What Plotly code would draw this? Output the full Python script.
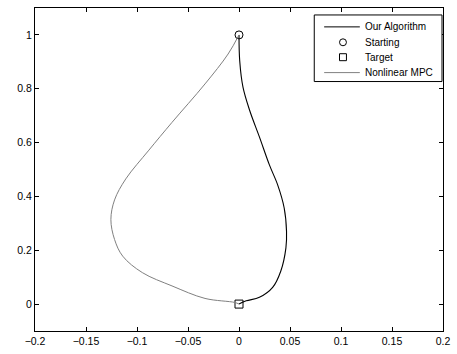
import plotly.graph_objects as go

# Our Algorithm trajectory
alg_x = [0.0, 0.0007, 0.0039, 0.0104, 0.020, 0.0298, 0.0379, 0.0443, 0.0466, 0.046, 0.041, 0.033, 0.020, 0.0071, 0.0]
alg_y = [1.0, 0.904, 0.806, 0.72, 0.621, 0.517, 0.443, 0.357, 0.27, 0.209, 0.123, 0.062, 0.025, 0.012, 0.0]

# Nonlinear MPC trajectory
mpc_x = [0.0, -0.0107, -0.0333, -0.0657, -0.0883, -0.111, -0.122, -0.1256, -0.122, -0.114, -0.0948, -0.0657, -0.0333, -0.004, 0.0]
mpc_y = [1.0, 0.929, 0.818, 0.675, 0.572, 0.465, 0.387, 0.314, 0.24, 0.178, 0.117, 0.0675, 0.021, 0.006, 0.0]

start_x, start_y = [0.0], [1.0]
target_x, target_y = [0.0], [0.0]

legend_labels = ["Our Algorithm", "Starting", "Target", "Nonlinear MPC"]

W, H = 457, 354
ML, MR, MT, MB = 35, 10, 7, 22
PW, PH = W - ML - MR, H - MT - MB


def px(x):
    return (x - ML) / PW


def py(y):
    return (H - MB - y) / PH


fig = go.Figure()
fig.add_trace(go.Scatter(x=alg_x, y=alg_y, mode="lines", name=legend_labels[0],
                         line=dict(color="black", width=1.1, shape="spline")))
fig.add_trace(go.Scatter(x=start_x, y=start_y, mode="markers", name=legend_labels[1],
                         marker=dict(symbol="circle-open", size=8, color="black", line=dict(width=1))))
fig.add_trace(go.Scatter(x=target_x, y=target_y, mode="markers", name=legend_labels[2],
                         marker=dict(symbol="square-open", size=8, color="black", line=dict(width=1))))
fig.add_trace(go.Scatter(x=mpc_x, y=mpc_y, mode="lines", name=legend_labels[3],
                         line=dict(color="#808080", width=1, shape="spline")))

# Manual legend (compact, MATLAB-like)
shapes = []
annotations = []
bx0, bx1, by0, by1 = 317, 446, 14, 81
shapes.append(dict(type="rect", xref="paper", yref="paper", x0=px(bx0), x1=px(bx1), y0=py(by1), y1=py(by0),
                   line=dict(color="black", width=1), fillcolor="white", layer="above"))
rows = [26, 41.5, 56.5, 72]
sx0, sx1, sxc, tx = 327, 363, 346, 366
shapes.append(dict(type="line", xref="paper", yref="paper", x0=px(sx0), x1=px(sx1), y0=py(rows[0]), y1=py(rows[0]),
                   line=dict(color="black", width=1), layer="above"))
r = 3.5
shapes.append(dict(type="circle", xref="paper", yref="paper", x0=px(sxc - r), x1=px(sxc + r),
                   y0=py(rows[1] + r), y1=py(rows[1] - r), line=dict(color="black", width=1), layer="above"))
shapes.append(dict(type="rect", xref="paper", yref="paper", x0=px(sxc - r), x1=px(sxc + r),
                   y0=py(rows[2] + r), y1=py(rows[2] - r), line=dict(color="black", width=1), layer="above"))
shapes.append(dict(type="line", xref="paper", yref="paper", x0=px(sx0), x1=px(sx1), y0=py(rows[3]), y1=py(rows[3]),
                   line=dict(color="#808080", width=1), layer="above"))
for lab, ry in zip(legend_labels, rows):
    annotations.append(dict(xref="paper", yref="paper", x=px(tx), y=py(ry), text=lab, showarrow=False,
                            xanchor="left", yanchor="middle",
                            font=dict(family="Liberation Sans, Arial", size=10, color="black")))

axis_common = dict(showgrid=False, zeroline=False, showline=True, linecolor="black", linewidth=1,
                   mirror="ticks", ticks="inside", ticklen=4, tickcolor="black",
                   tickfont=dict(family="Liberation Sans, Arial", size=10.5, color="black"))

fig.update_layout(
    width=W, height=H,
    margin=dict(l=ML, r=MR, t=MT, b=MB),
    paper_bgcolor="white", plot_bgcolor="white",
    xaxis=dict(range=[-0.2, 0.2], tick0=-0.2, dtick=0.05, **axis_common),
    yaxis=dict(range=[-0.1, 1.1], tick0=0, dtick=0.2, **axis_common),
    showlegend=False,
    shapes=shapes,
    annotations=annotations,
)

fig.write_html("out.html")
